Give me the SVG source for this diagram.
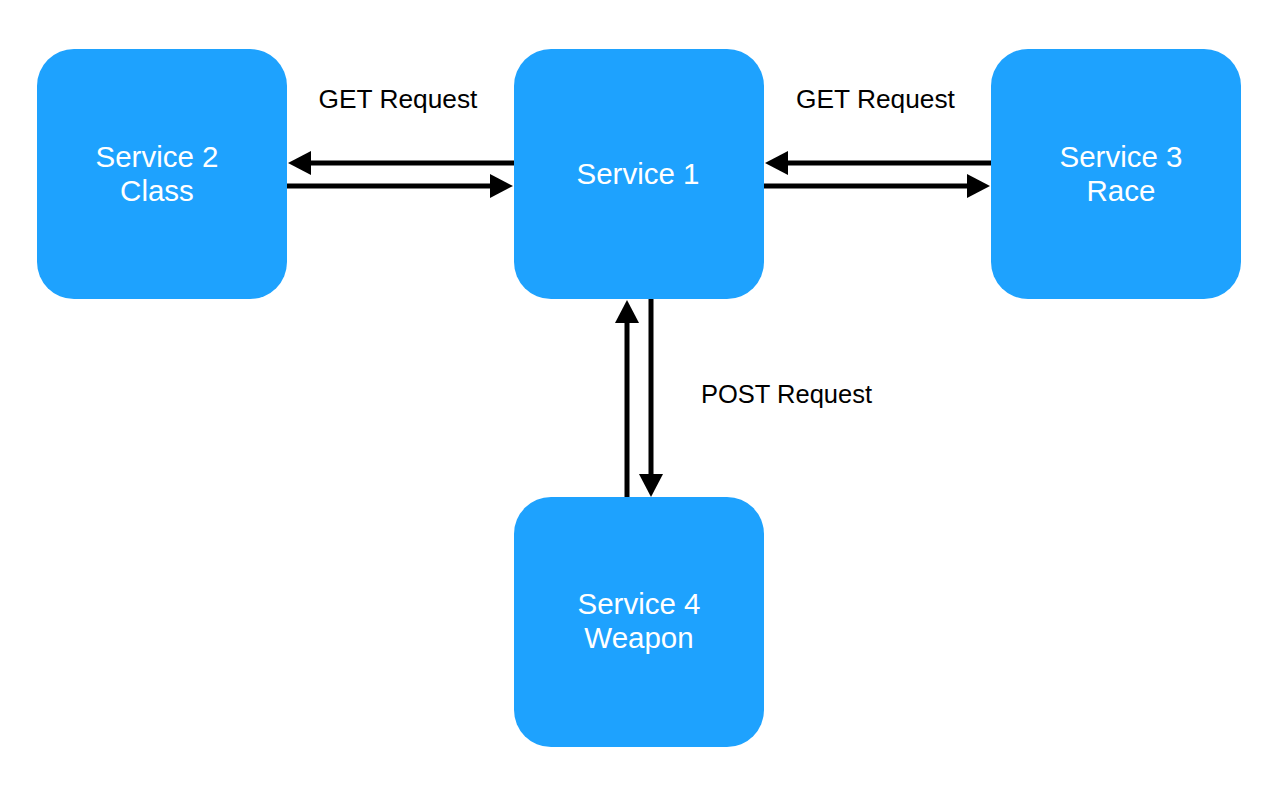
<svg xmlns="http://www.w3.org/2000/svg" width="1286" height="802" viewBox="0 0 1286 802">
<style>
.box{fill:#1ea2fe}
.nt{font-family:"Liberation Sans",Arial,Helvetica,sans-serif;font-size:29.5px;fill:#ffffff;text-anchor:middle}
.lbl{font-family:"Liberation Sans",Arial,Helvetica,sans-serif;font-size:26.3px;fill:#000000}
.lblp{font-size:25.5px}
.cn{stroke:#000;stroke-width:5;fill:none}
</style>
<defs>
<marker id="ah" markerUnits="userSpaceOnUse" markerWidth="24" markerHeight="24" refX="1" refY="12" orient="auto" viewBox="0 0 24 24">
<path d="M0,0 L23,12 L0,24 z" fill="#000"/>
</marker>
</defs>
<rect width="1286" height="802" fill="#ffffff"/>
<g id="connectors">
<line class="cn" x1="514" y1="163" x2="310" y2="163" marker-end="url(#ah)"/>
<line class="cn" x1="287" y1="186" x2="491" y2="186" marker-end="url(#ah)"/>
<line class="cn" x1="991" y1="163" x2="787" y2="163" marker-end="url(#ah)"/>
<line class="cn" x1="764" y1="186" x2="968" y2="186" marker-end="url(#ah)"/>
<line class="cn" x1="627" y1="497" x2="627" y2="322" marker-end="url(#ah)"/>
<line class="cn" x1="651" y1="299" x2="651" y2="475" marker-end="url(#ah)"/>
<text class="lbl" x="398" y="108" text-anchor="middle">GET Request</text>
<text class="lbl" x="875.5" y="108" text-anchor="middle">GET Request</text>
<text class="lbl lblp" x="701" y="403">POST Request</text>
</g>
<g id="service2">
<rect class="box" x="37" y="49" width="250" height="250" rx="37"/>
<text class="nt" x="157" y="167">Service 2</text>
<text class="nt" x="157" y="201">Class</text>
</g>
<g id="service1">
<rect class="box" x="514" y="49" width="250" height="250" rx="37"/>
<text class="nt" x="638" y="184">Service 1</text>
</g>
<g id="service3">
<rect class="box" x="991" y="49" width="250" height="250" rx="37"/>
<text class="nt" x="1121" y="167">Service 3</text>
<text class="nt" x="1121" y="201">Race</text>
</g>
<g id="service4">
<rect class="box" x="514" y="497" width="250" height="250" rx="37"/>
<text class="nt" x="639" y="614">Service 4</text>
<text class="nt" x="639" y="648">Weapon</text>
</g>
</svg>
